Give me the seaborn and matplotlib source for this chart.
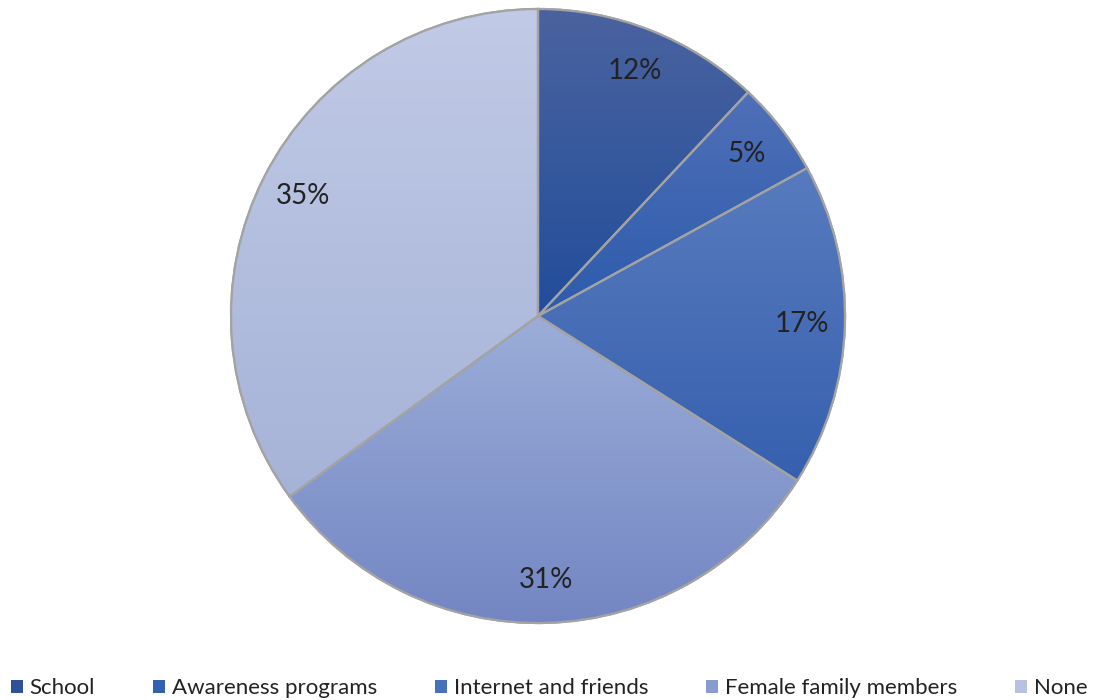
import numpy as np
import matplotlib
matplotlib.use("Agg")
import matplotlib.pyplot as plt
from matplotlib.colors import LinearSegmentedColormap
from matplotlib.patches import Rectangle, Wedge
import seaborn as sns

# Sources of information
categories = ["School", "Awareness programs", "Internet and friends",
              "Female family members", "None"]
shares = [12, 5, 17, 31, 35]

# Vertical gradient (top colour, bottom colour) per slice, plus flat legend colour
top_colors = ["#4a639f", "#5070b8", "#587bbe", "#9badd8", "#c1cae6"]
bottom_colors = ["#224d9b", "#2c5bab", "#3660ae", "#7386c3", "#a6b3d8"]
legend_colors = ["#2d5297", "#3361b0", "#4771b9", "#899cd0", "#b7c2e2"]

sns.set_theme(style="white")
plt.rcParams["font.family"] = ["Lato", "DejaVu Sans"]

W, H = 1098, 700
fig = plt.figure(figsize=(W / 100, H / 100), dpi=100)

cx, cy, r = 538, 316, 307
pad = 1.02
ax = fig.add_axes([(cx - r * pad) / W, (H - cy - r * pad) / H,
                   2 * r * pad / W, 2 * r * pad / H])

wedges, texts, autotexts = ax.pie(
    shares, startangle=90, counterclock=False, radius=1,
    colors=legend_colors,
    autopct=lambda p: f"{p:.0f}%", pctdistance=0.86,
    wedgeprops=dict(edgecolor="#a3a3a3", linewidth=1.6),
    textprops=dict(fontsize=20, color="#222222"))
ax.set_xlim(-pad, pad)
ax.set_ylim(-pad, pad)
ax.set_aspect("equal")
ax.axis("off")

# Fill each slice with a vertical gradient clipped to the wedge shape
grad = np.linspace(1, 0, 256).reshape(-1, 1)
for w, c0, c1 in zip(wedges, top_colors, bottom_colors):
    ext = w.get_path().get_extents()
    cmap = LinearSegmentedColormap.from_list("g", [c1, c0])
    im = ax.imshow(grad, cmap=cmap, vmin=0, vmax=1, aspect="auto",
                   extent=[ext.x0, ext.x1, ext.y0, ext.y1],
                   zorder=w.get_zorder() + 0.1, interpolation="bicubic")
    im.set_clip_path(w)
    outline = Wedge(w.center, w.r, w.theta1, w.theta2, facecolor="none",
                    edgecolor="#a3a3a3", linewidth=1.6,
                    zorder=w.get_zorder() + 0.2)
    ax.add_patch(outline)
for t in autotexts:
    t.set_zorder(10)

handles = [Rectangle((0, 0), 1, 1, facecolor=c, edgecolor="none")
           for c in legend_colors]
fig.legend(handles, categories, loc="center", bbox_to_anchor=(0.5, 0.017),
           ncol=5, frameon=False, fontsize=16, handlelength=0.55,
           handleheight=0.55, handletextpad=0.3, columnspacing=2.6,
           labelcolor="#222222")

fig.savefig("out.png", dpi=100, facecolor="white")
